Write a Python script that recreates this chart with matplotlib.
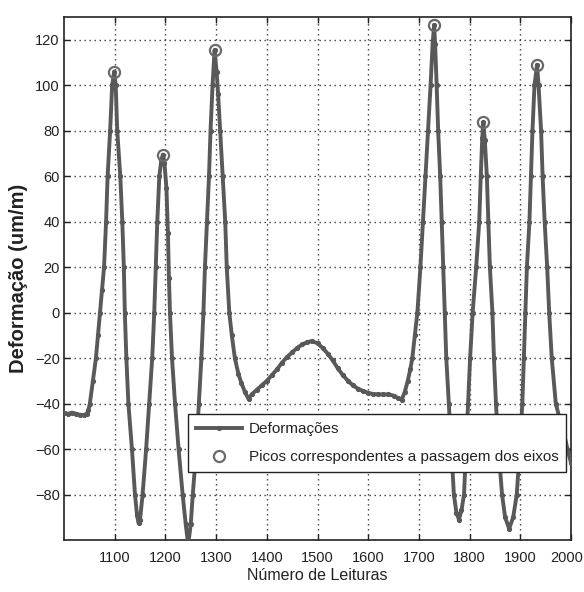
import matplotlib
matplotlib.use("Agg")
import matplotlib.pyplot as plt
from matplotlib.transforms import ScaledTranslation

# Readings (x) and strain values (y)
leituras = [1000, 1008, 1016, 1024, 1032, 1040, 1045, 1048, 1051, 1057, 1063, 1067, 1071, 1075,
            1079, 1083, 1086, 1091, 1095, 1099, 1102, 1105, 1111, 1115, 1118, 1120, 1123, 1127,
            1134, 1140, 1144, 1147, 1150, 1155, 1162, 1168, 1174, 1178, 1181, 1184, 1188, 1192,
            1195, 1198, 1202, 1205, 1207, 1209, 1213, 1219, 1226, 1234, 1240, 1245, 1250, 1254,
            1261, 1266, 1271, 1275, 1278, 1282, 1286, 1289, 1293, 1297, 1301, 1304, 1308, 1313,
            1318, 1321, 1326, 1331, 1337, 1344, 1350, 1357, 1364, 1370, 1380, 1390, 1400, 1410,
            1420, 1430, 1440, 1450, 1460, 1470, 1480, 1489, 1500, 1510, 1520, 1530, 1540, 1550,
            1560, 1570, 1580, 1590, 1600, 1610, 1620, 1630, 1640, 1650, 1658, 1666, 1672, 1678,
            1683, 1687, 1692, 1697, 1703, 1708, 1713, 1718, 1723, 1727, 1730, 1732, 1735, 1738,
            1742, 1745, 1748, 1751, 1754, 1759, 1764, 1769, 1774, 1779, 1784, 1789, 1793, 1797,
            1801, 1806, 1813, 1819, 1822, 1825, 1827, 1830, 1834, 1837, 1840, 1845, 1848, 1852,
            1857, 1864, 1870, 1878, 1886, 1893, 1899, 1904, 1907, 1910, 1913, 1918, 1921, 1924,
            1928, 1933, 1936, 1941, 1944, 1948, 1953, 1957, 1962, 1970, 1978, 1985, 1993, 2000]
deformacoes = [-44, -44.5, -44, -44.5, -45, -45, -44.5, -43, -40, -30, -20, -10, 0, 10,
               20, 40, 60, 80, 100, 106, 100, 80, 60, 40, 20, 0, -20, -40,
               -60, -80, -89, -92.5, -91, -80, -60, -40, -20, 0, 20, 40, 60, 67,
               69.5, 66, 55, 35, 15, 0, -20, -40, -60, -80, -93, -102, -93, -80,
               -60, -40, -20, 0, 20, 40, 60, 80, 100, 115.5, 106, 96, 80, 60,
               40, 20, 0, -10, -20, -27, -31, -35, -38, -36, -34, -32, -30, -27.5,
               -25, -22, -19.5, -17.5, -15.5, -14, -13, -12.5, -13.5, -15.5, -18, -21, -24.5, -27.5,
               -30, -32, -33.5, -34.5, -35.3, -35.8, -36, -36, -36, -36.5, -37.5, -38.3, -35, -30,
               -25, -20, -10, 0, 20, 40, 60, 80, 100, 118, 126.5, 118, 100, 80,
               60, 40, 20, 0, -20, -40, -60, -80, -88, -91, -87, -80, -60, -40,
               -20, 0, 20, 40, 60, 77, 83.8, 76, 60, 40, 20, 0, -20, -40,
               -60, -80, -90, -95, -90, -80, -60, -40, -20, 0, 20, 40, 60, 80,
               100, 109, 100, 80, 60, 40, 20, 0, -20, -40, -47, -52, -60, -66]

# Peaks (axle passages)
picos_x = [1099, 1195, 1297, 1730, 1827, 1933]
picos_y = [106, 69.5, 115.5, 126.5, 83.8, 109]

xticks = [1100, 1200, 1300, 1400, 1500, 1600, 1700, 1800, 1900, 2000]
yticks = [-80, -60, -40, -20, 0, 20, 40, 60, 80, 100, 120]

plt.rcParams['font.family'] = ['Liberation Sans', 'DejaVu Sans']

fig = plt.figure(figsize=(5.84, 5.92), dpi=100)
fig.patch.set_facecolor('white')
ax = fig.add_axes([64 / 584, 52 / 592, 507 / 584, 523 / 592])

line_col = '#595959'
ax.plot(leituras, deformacoes, color=line_col, linewidth=2.8, marker='.',
        markersize=5.5, label='Deformações', zorder=3)
ax.plot(picos_x, picos_y, linestyle='none', marker='o', markersize=8,
        markerfacecolor='none', markeredgecolor='#6a6a6a', markeredgewidth=1.6,
        label='Picos correspondentes a passagem dos eixos', zorder=4)

ax.set_xlim(1000, 2000)
ax.set_ylim(-100, 130)
ax.set_xticks(xticks)
ax.set_yticks(yticks)

ax.grid(True, color='#3a3a3a', linestyle=(0, (1, 2.6)), linewidth=1.0)
ax.set_axisbelow(True)

ax.tick_params(direction='in', length=4, width=1, top=True, right=True,
               labelsize=10.5, colors='#222222')
ax.tick_params(axis='x', pad=8)
ax.tick_params(axis='y', pad=3)
for sp in ax.spines.values():
    sp.set_linewidth(1.2)
    sp.set_color('#222222')

# keep the last x tick label inside the figure
fig.canvas.draw()
last = ax.get_xticklabels()[-1]
last.set_transform(last.get_transform() + ScaledTranslation(-4 / 100, 0, fig.dpi_scale_trans))

ax.set_xlabel('Número de Leituras', fontsize=11.5, color='#222222', labelpad=2)
ax.set_ylabel('Deformação (um/m)', fontsize=14.5, fontweight='bold',
              color='#222222', labelpad=5)

leg = ax.legend(loc='lower right', bbox_to_anchor=(0.99, 0.13), borderaxespad=0,
                fontsize=11, frameon=True, fancybox=False, framealpha=1,
                edgecolor='#222222', handlelength=3.0, labelspacing=0.95,
                borderpad=0.5, handletextpad=0.45, numpoints=1)
leg.get_frame().set_linewidth(1.0)
for t in leg.get_texts():
    t.set_color('#222222')

fig.savefig('out.png', dpi=100, facecolor='white')
